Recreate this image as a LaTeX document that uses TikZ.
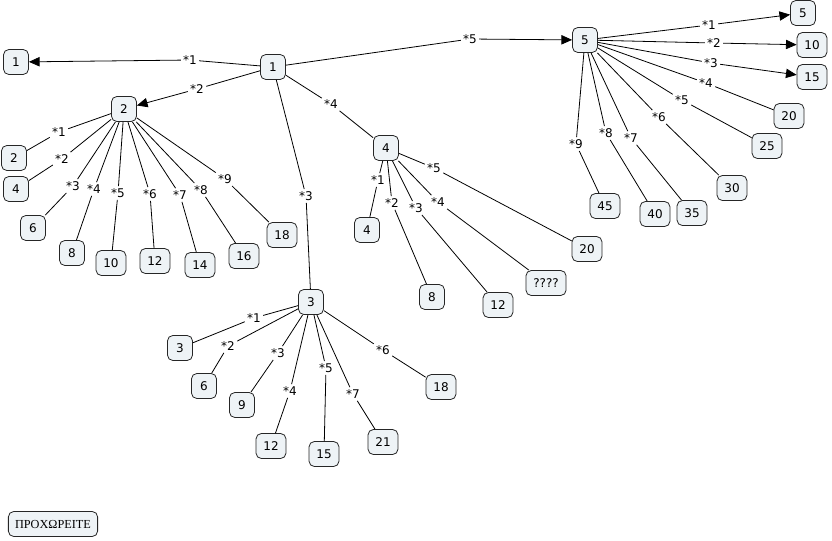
\documentclass[tikz,border=0pt]{standalone}
\usepackage{fontspec}
\setmainfont{DejaVu Sans}
\newfontfamily\grfont{Liberation Serif}
\usetikzlibrary{arrows.meta}
\definecolor{conceptfill}{RGB}{238,243,246}

\begin{document}
\begin{tikzpicture}[x=0.75pt,y=-0.75pt,
					font=\fontsize{9}{11}\selectfont,
					concept/.style={draw=black!85, fill=conceptfill, rounded corners=4pt, line width=0.6pt,
						minimum width=18.75pt, minimum height=18.75pt, inner xsep=5.5pt, inner ysep=2pt},
					link/.style={inner sep=1.5pt},
					arr/.style={-{Triangle[length=8pt,width=7pt]}},
					line width=0.6pt]
    \useasboundingbox (0,0) rectangle (832,540);
    % Place nodes
    \node [concept] (top) at (273,67) {1};
    \node [concept] (one) at (16,62) {1};
    \node [concept] (two) at (124,109) {2};
    \node [concept] (three) at (311,302) {3};
    \node [concept] (four) at (386,148) {4};
    \node [concept] (five) at (585,40) {5};
    \node [link] (top1) at (190,60) {*1};
    \node [link] (top2) at (197,89) {*2};
    \node [link] (top3) at (306,196) {*3};
    \node [link] (top4) at (331,104) {*4};
    \node [link] (top5) at (470,39) {*5};

    % children of 2
    \node [concept] (twoA) at (14,158) {2};
    \node [concept] (twoB) at (16,189) {4};
    \node [concept] (twoC) at (33,228) {6};
    \node [concept] (twoD) at (72,253) {8};
    \node [concept] (twoE) at (111,263) {10};
    \node [concept] (twoF) at (155,261) {12};
    \node [concept] (twoG) at (200,265) {14};
    \node [concept] (twoH) at (244,256) {16};
    \node [concept] (twoI) at (282,235) {18};
    \node [link] (twoA1) at (59,132) {*1};
    \node [link] (twoB1) at (62,159) {*2};
    \node [link] (twoC1) at (73,186) {*3};
    \node [link] (twoD1) at (94,189) {*4};
    \node [link] (twoE1) at (118,193) {*5};
    \node [link] (twoF1) at (150,194) {*6};
    \node [link] (twoG1) at (180,195) {*7};
    \node [link] (twoH1) at (201,190) {*8};
    \node [link] (twoI1) at (225,179) {*9};

    % children of 4
    \node [concept] (fourA) at (367,230) {4};
    \node [concept] (fourB) at (432,297) {8};
    \node [concept] (fourC) at (498,305) {12};
    \node [concept] (fourD) at (546,283) {????};
    \node [concept] (fourE) at (587,249) {20};
    \node [link] (fourA1) at (378,180) {*1};
    \node [link] (fourB1) at (392,203) {*2};
    \node [link] (fourC1) at (416,208) {*3};
    \node [link] (fourD1) at (438,202) {*4};
    \node [link] (fourE1) at (434,168) {*5};

    % children of 3
    \node [concept] (threeA) at (180,348) {3};
    \node [concept] (threeB) at (204,386) {6};
    \node [concept] (threeC) at (242,405) {9};
    \node [concept] (threeD) at (271,446) {12};
    \node [concept] (threeE) at (324,454) {15};
    \node [concept] (threeF) at (441,387) {18};
    \node [concept] (threeG) at (383,442) {21};
    \node [link] (threeA1) at (254,318) {*1};
    \node [link] (threeB1) at (228,346) {*2};
    \node [link] (threeC1) at (278,353) {*3};
    \node [link] (threeD1) at (290,391) {*4};
    \node [link] (threeE1) at (326,368) {*5};
    \node [link] (threeF1) at (383,350) {*6};
    \node [link] (threeG1) at (353,394) {*7};

    % children of 5
    \node [concept] (fiveA) at (803,13) {5};
    \node [concept] (fiveB) at (812,45) {10};
    \node [concept] (fiveC) at (812,77) {15};
    \node [concept] (fiveD) at (789,116) {20};
    \node [concept] (fiveE) at (767,146) {25};
    \node [concept] (fiveF) at (732,188) {30};
    \node [concept] (fiveG) at (692,213) {35};
    \node [concept] (fiveH) at (655,214) {40};
    \node [concept] (fiveI) at (605,206) {45};
    \node [link] (fiveA1) at (709,25) {*1};
    \node [link] (fiveB1) at (714,43) {*2};
    \node [link] (fiveC1) at (711,63) {*3};
    \node [link] (fiveD1) at (706,83) {*4};
    \node [link] (fiveE1) at (682,100) {*5};
    \node [link] (fiveF1) at (659,117) {*6};
    \node [link] (fiveG1) at (631,138) {*7};
    \node [link] (fiveH1) at (606,133) {*8};
    \node [link] (fiveI1) at (576,144) {*9};

    \node [concept, font=\grfont\fontsize{9.2}{11}\selectfont, inner xsep=5pt] (go) at (53,524) {ΠΡΟΧΩΡΕΙΤΕ};

    % Draw edges
    \draw[arr] (top) -- (top1) -- (one);
    \draw[arr] (top) -- (top2) -- (two);
    \draw (top) -- (top3) -- (three);
    \draw (top) -- (top4) -- (four);
    \draw[arr] (top) -- (top5) -- (five);

    \draw (two) -- (twoA1) -- (twoA);
    \draw (two) -- (twoB1) -- (twoB);
    \draw (two) -- (twoC1) -- (twoC);
    \draw (two) -- (twoD1) -- (twoD);
    \draw (two) -- (twoE1) -- (twoE);
    \draw (two) -- (twoF1) -- (twoF);
    \draw (two) -- (twoG1) -- (twoG);
    \draw (two) -- (twoH1) -- (twoH);
    \draw (two) -- (twoI1) -- (twoI);

    \draw (four) -- (fourA1) -- (fourA);
    \draw (four) -- (fourB1) -- (fourB);
    \draw (four) -- (fourC1) -- (fourC);
    \draw (four) -- (fourD1) -- (fourD);
    \draw (four) -- (fourE1) -- (fourE);

    \draw (three) -- (threeA1) -- (threeA);
    \draw (three) -- (threeB1) -- (threeB);
    \draw (three) -- (threeC1) -- (threeC);
    \draw (three) -- (threeD1) -- (threeD);
    \draw (three) -- (threeE1) -- (threeE);
    \draw (three) -- (threeF1) -- (threeF);
    \draw (three) -- (threeG1) -- (threeG);

    \draw[arr] (five) -- (fiveA1) -- (fiveA);
    \draw[arr] (five) -- (fiveB1) -- (fiveB);
    \draw[arr] (five) -- (fiveC1) -- (fiveC);
    \draw (five) -- (fiveD1) -- (fiveD);
    \draw (five) -- (fiveE1) -- (fiveE);
    \draw (five) -- (fiveF1) -- (fiveF);
    \draw (five) -- (fiveG1) -- (fiveG);
    \draw (five) -- (fiveH1) -- (fiveH);
    \draw (five) -- (fiveI1) -- (fiveI);
\end{tikzpicture}
\end{document}
